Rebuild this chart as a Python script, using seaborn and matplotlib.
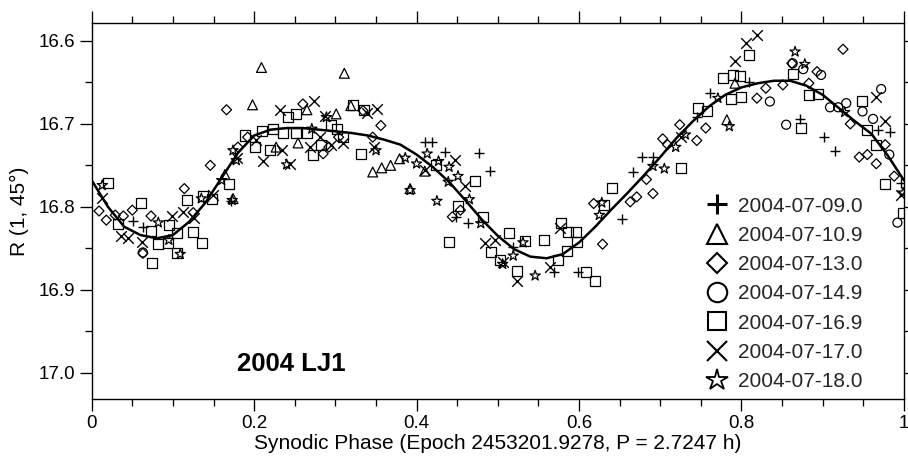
import numpy as np
import pandas as pd
import matplotlib
matplotlib.use("Agg")
import matplotlib.pyplot as plt
from matplotlib.lines import Line2D
from matplotlib.ticker import MultipleLocator, FormatStrFormatter
import seaborn as sns

# ---------------- data ----------------
labels = ["2004-07-09.0", "2004-07-10.9", "2004-07-13.0", "2004-07-14.9",
          "2004-07-16.9", "2004-07-17.0", "2004-07-18.0"]

plus_x = [0.051, 0.063, 0.171, 0.41, 0.419, 0.435, 0.477, 0.49, 0.449, 0.463, 0.519, 0.569,
          0.599, 0.653, 0.666, 0.678, 0.691, 0.745, 0.761, 0.809, 0.872, 0.901, 0.915, 0.968,
          0.983, 0.997]
plus_y = [16.817, 16.824, 16.793, 16.722, 16.722, 16.734, 16.735, 16.757, 16.812, 16.820, 16.848,
          16.878, 16.878, 16.815, 16.758, 16.740, 16.740, 16.692, 16.663, 16.650, 16.694, 16.716,
          16.733, 16.707, 16.710, 16.771]

tri_x = [0.164, 0.174, 0.198, 0.209, 0.227, 0.254, 0.265, 0.301, 0.311, 0.319, 0.346, 0.357,
         0.368, 0.379, 0.392, 0.41, 0.782, 0.792]
tri_y = [16.761, 16.790, 16.677, 16.632, 16.728, 16.723, 16.683, 16.688, 16.639, 16.678, 16.758,
         16.753, 16.750, 16.742, 16.778, 16.757, 16.695, 16.651]

dia_x = [0.009, 0.018, 0.029, 0.039, 0.05, 0.063, 0.073, 0.114, 0.125, 0.146, 0.166, 0.18,
         0.192, 0.26, 0.285, 0.292, 0.304, 0.334, 0.346, 0.356, 0.444, 0.454, 0.618, 0.629,
         0.663, 0.671, 0.683, 0.691, 0.703, 0.709, 0.724, 0.745, 0.756, 0.819, 0.830, 0.851,
         0.862, 0.883, 0.893, 0.925, 0.934, 0.945, 0.955, 0.966, 0.977, 0.988]
dia_y = [16.805, 16.816, 16.810, 16.811, 16.804, 16.856, 16.811, 16.778, 16.807, 16.750, 16.683,
         16.728, 16.716, 16.676, 16.736, 16.728, 16.716, 16.684, 16.716, 16.702, 16.812, 16.804,
         16.796, 16.845, 16.794, 16.788, 16.767, 16.784, 16.718, 16.725, 16.701, 16.720, 16.705,
         16.669, 16.657, 16.653, 16.627, 16.651, 16.637, 16.610, 16.700, 16.740, 16.737, 16.748,
         16.725, 16.763]

circ_x = [0.063, 0.835, 0.855, 0.863, 0.876, 0.898, 0.909, 0.919, 0.929, 0.949, 0.962, 0.972,
          0.982, 0.992]
circ_y = [16.855, 16.673, 16.701, 16.627, 16.634, 16.641, 16.680, 16.680, 16.675, 16.685, 16.694,
          16.658, 16.737, 16.819]

sq_x = [0.020, 0.061, 0.032, 0.073, 0.082, 0.074, 0.095, 0.105, 0.094, 0.105, 0.125, 0.136,
        0.117, 0.137, 0.148, 0.169, 0.189, 0.210, 0.201, 0.220, 0.223, 0.242, 0.252, 0.236,
        0.252, 0.265, 0.295, 0.302, 0.282, 0.272, 0.310, 0.322, 0.335, 0.332, 0.424, 0.472,
        0.451, 0.482, 0.440, 0.514, 0.534, 0.557, 0.578, 0.587, 0.596, 0.598, 0.585, 0.574,
        0.492, 0.503, 0.524, 0.609, 0.620, 0.641, 0.631, 0.725, 0.746, 0.757, 0.777, 0.789,
        0.798, 0.787, 0.809, 0.800, 0.864, 0.883, 0.894, 0.873, 0.948, 0.955, 0.966, 0.977,
        0.999]
sq_y = [16.771, 16.795, 16.821, 16.829, 16.845, 16.868, 16.822, 16.831, 16.844, 16.856, 16.830,
        16.843, 16.792, 16.787, 16.791, 16.772, 16.714, 16.708, 16.728, 16.731, 16.706, 16.692,
        16.688, 16.711, 16.711, 16.711, 16.701, 16.706, 16.726, 16.737, 16.716, 16.677, 16.683,
        16.736, 16.750, 16.769, 16.799, 16.812, 16.842, 16.831, 16.841, 16.840, 16.820, 16.830,
        16.830, 16.842, 16.853, 16.864, 16.855, 16.864, 16.877, 16.879, 16.889, 16.777, 16.798,
        16.753, 16.681, 16.685, 16.645, 16.641, 16.642, 16.670, 16.617, 16.667, 16.640, 16.665,
        16.664, 16.705, 16.672, 16.707, 16.725, 16.772, 16.808]

x_x = [0.013, 0.036, 0.045, 0.062, 0.099, 0.112, 0.126, 0.149, 0.179, 0.202, 0.211, 0.232,
       0.234, 0.244, 0.269, 0.274, 0.281, 0.287, 0.295, 0.310, 0.339, 0.351, 0.348, 0.410,
       0.447, 0.460, 0.484, 0.496, 0.506, 0.524, 0.564, 0.576, 0.726, 0.792, 0.806, 0.819,
       0.966, 0.977, 0.997]
x_y = [16.789, 16.835, 16.838, 16.842, 16.811, 16.806, 16.814, 16.786, 16.741, 16.720, 16.745,
       16.683, 16.731, 16.748, 16.728, 16.672, 16.716, 16.690, 16.726, 16.723, 16.687, 16.682,
       16.728, 16.755, 16.744, 16.775, 16.843, 16.840, 16.866, 16.889, 16.872, 16.825, 16.716,
       16.624, 16.602, 16.593, 16.667, 16.697, 16.786]

star_x = [0.013, 0.082, 0.095, 0.109, 0.135, 0.160, 0.174, 0.173, 0.178, 0.240, 0.271, 0.289,
          0.350, 0.386, 0.400, 0.413, 0.427, 0.440, 0.451, 0.439, 0.425, 0.465, 0.479, 0.506,
          0.519, 0.531, 0.546, 0.392, 0.625, 0.628, 0.691, 0.705, 0.719, 0.731, 0.771, 0.785,
          0.866, 0.878, 0.927, 0.999]
star_y = [16.774, 16.819, 16.840, 16.857, 16.790, 16.768, 16.732, 16.792, 16.744, 16.749, 16.706,
          16.692, 16.732, 16.741, 16.748, 16.736, 16.745, 16.752, 16.763, 16.770, 16.793, 16.791,
          16.820, 16.869, 16.859, 16.843, 16.883, 16.780, 16.810, 16.795, 16.751, 16.754, 16.728,
          16.713, 16.669, 16.703, 16.613, 16.628, 16.686, 16.783]

curve_x = [0.00, 0.02, 0.04, 0.06, 0.08, 0.10, 0.12, 0.14, 0.16, 0.18, 0.20, 0.22, 0.24, 0.26,
           0.28, 0.30, 0.32, 0.34, 0.36, 0.38, 0.40, 0.42, 0.44, 0.46, 0.48, 0.50, 0.52, 0.54,
           0.56, 0.58, 0.60, 0.62, 0.64, 0.66, 0.68, 0.70, 0.72, 0.74, 0.76, 0.78, 0.80, 0.82,
           0.84, 0.86, 0.88, 0.90, 0.92, 0.94, 0.96, 0.98, 1.00]
curve_y = [16.768, 16.800, 16.824, 16.834, 16.838, 16.834, 16.818, 16.795, 16.765, 16.735, 16.714,
           16.707, 16.705, 16.705, 16.707, 16.709, 16.711, 16.714, 16.719, 16.725, 16.737, 16.752,
           16.770, 16.792, 16.815, 16.835, 16.851, 16.860, 16.862, 16.857, 16.843, 16.824, 16.803,
           16.783, 16.762, 16.740, 16.717, 16.697, 16.679, 16.665, 16.656, 16.651, 16.648, 16.648,
           16.654, 16.665, 16.681, 16.697, 16.712, 16.738, 16.768]

object_name = "2004 LJ1"
xlabel = "Synodic Phase (Epoch 2453201.9278, P = 2.7247 h)"
ylabel = "R (1, 45\u00b0)"

# ---------------- style ----------------
sns.set_theme(style="ticks")
plt.rcParams["font.family"] = ["Liberation Sans", "DejaVu Sans"]
plt.rcParams["axes.linewidth"] = 1.0

fig = plt.figure(figsize=(9.08, 4.63), dpi=100)
ax = fig.add_axes([0.101, 0.1376, 0.8945, 0.8134])

series = [
    (plus_x, plus_y, "+", 62, True),
    (tri_x, tri_y, "^", 50, False),
    (dia_x, dia_y, "D", 26, False),
    (circ_x, circ_y, "o", 42, False),
    (sq_x, sq_y, "s", 52, False),
    (x_x, x_y, "x", 58, True),
    (star_x, star_y, "*", 60, False),
]

for (xs, ys, m, s, lineart), lab in zip(series, labels):
    df = pd.DataFrame({"phase": xs, "mag": ys})
    if lineart:
        sns.scatterplot(data=df, x="phase", y="mag", marker=m, s=s, color="black",
                        linewidth=1.0, ax=ax, legend=False, zorder=3)
    else:
        sns.scatterplot(data=df, x="phase", y="mag", marker=m, s=s, color="black",
                        edgecolor="black", linewidth=0.9, ax=ax, legend=False, zorder=3)
        ax.collections[-1].set_facecolor("none")

curve = pd.DataFrame({"phase": curve_x, "mag": curve_y})
sns.lineplot(data=curve, x="phase", y="mag", color="black", linewidth=1.8, ax=ax,
             estimator=None, sort=False, zorder=4)

ax.set_xlim(0, 1)
ax.set_ylim(17.032, 16.578)

ax.xaxis.set_major_locator(MultipleLocator(0.2))
ax.xaxis.set_minor_locator(MultipleLocator(0.05))
ax.yaxis.set_major_locator(MultipleLocator(0.1))
ax.yaxis.set_minor_locator(MultipleLocator(0.05))
ax.xaxis.set_major_formatter(plt.FuncFormatter(lambda v, p: "0" if abs(v) < 1e-9 else ("1" if abs(v - 1) < 1e-9 else f"{v:.1f}")))
ax.yaxis.set_major_formatter(FormatStrFormatter("%.1f"))

ax.tick_params(which="both", direction="out", top=True, right=True, width=0.95,
               color="black", labelsize=13.5, labelcolor="black")
ax.tick_params(which="major", length=8.6, pad=3)
ax.tick_params(which="minor", length=4.8)
for sp in ax.spines.values():
    sp.set_color("black")
    sp.set_linewidth(1.0)

ax.set_xlabel(xlabel, fontsize=15, color="black", labelpad=1)
ax.set_ylabel(ylabel, fontsize=15, color="black", labelpad=7)

ax.text(0.246, 16.99, object_name, fontsize=18.5, fontweight="bold", ha="center",
        va="center", color="black")

handles = [
    Line2D([], [], linestyle="none", marker="+", markersize=15, color="black", markeredgewidth=2.2),
    Line2D([], [], linestyle="none", marker="^", markersize=15, markerfacecolor="none",
           markeredgecolor="black", markeredgewidth=1.5),
    Line2D([], [], linestyle="none", marker="D", markersize=10.5, markerfacecolor="none",
           markeredgecolor="black", markeredgewidth=1.5),
    Line2D([], [], linestyle="none", marker="o", markersize=14, markerfacecolor="none",
           markeredgecolor="black", markeredgewidth=1.5),
    Line2D([], [], linestyle="none", marker="s", markersize=13.5, markerfacecolor="none",
           markeredgecolor="black", markeredgewidth=1.5),
    Line2D([], [], linestyle="none", marker="x", markersize=14, color="black", markeredgewidth=1.5),
    Line2D([], [], linestyle="none", marker="*", markersize=16, markerfacecolor="none",
           markeredgecolor="black", markeredgewidth=1.3),
]
ax.legend(handles, labels, loc="lower left", bbox_to_anchor=(0.757, 0.022), frameon=False,
          fontsize=15, handlelength=1.0, handletextpad=0.5, labelspacing=0.49,
          borderpad=0, borderaxespad=0)

fig.savefig("out.png", dpi=100)
